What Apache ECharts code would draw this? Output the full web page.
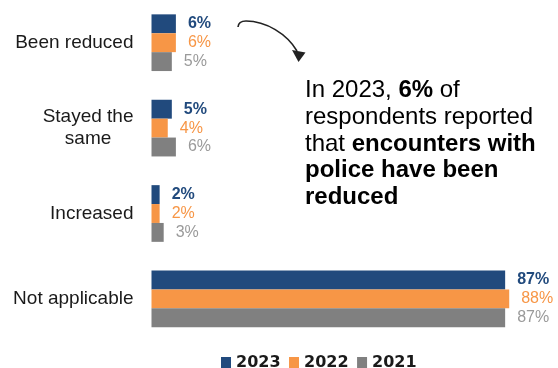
<!DOCTYPE html>
<html>
<head>
<meta charset="utf-8">
<script src="https://cdn.jsdelivr.net/npm/echarts@6/dist/echarts.min.js"></script>
<style>
  html, body { margin: 0; padding: 0; background: #ffffff; }
  #chart { width: 558px; height: 368px; }
</style>
</head>
<body>
<div id="chart"></div>
<script>
// Survey answers: how encounters with police have changed
const categories = ['Been reduced', 'Stayed the\nsame', 'Increased', 'Not applicable'];
const years = ['2023', '2022', '2021'];
const values2023 = [6, 5, 2, 87];
const values2022 = [6, 4, 2, 88];
const values2021 = [5, 6, 3, 87];

const FONT = "'Liberation Sans', Arial, sans-serif";
const LEGEND_FONT = "'DejaVu Sans', Verdana, sans-serif";
const BLUE = '#214A7D';
const ORANGE = '#F79646';
const GRAY = '#808080';

const chart = echarts.init(document.getElementById('chart'), null, { renderer: 'canvas' });

function barSeries(name, data, barColor, labelColor, bold) {
  return {
    name: name,
    type: 'bar',
    data: data,
    barWidth: 18.9,
    barGap: '0%',
    itemStyle: { color: barColor },
    label: {
      show: true,
      position: 'right',
      distance: 12,
      formatter: '{c}%',
      fontFamily: FONT,
      fontSize: 16,
      fontWeight: bold ? 'bold' : 'normal',
      color: labelColor
    },
    emphasis: { disabled: true },
    animation: false
  };
}

const option = {
  backgroundColor: '#ffffff',
  animation: false,
  grid: { left: 151.5, top: -3.9, width: 408.4, height: 345.5, containLabel: false },
  legend: {
    data: years,
    left: 221,
    top: 354.5,
    padding: 0,
    itemWidth: 10,
    itemHeight: 11,
    itemGap: 8.5,
    icon: 'rect',
    selectedMode: false,
    textStyle: {
      fontFamily: LEGEND_FONT,
      fontSize: 16,
      fontWeight: 'bold',
      color: '#1a1a1a',
      padding: [0, 0, 0, 0]
    }
  },
  xAxis: {
    type: 'value',
    min: 0,
    max: 100,
    show: false
  },
  yAxis: {
    type: 'category',
    data: categories,
    inverse: true,
    axisLine: { show: false },
    axisTick: { show: false },
    splitLine: { show: false },
    axisLabel: {
      margin: 18,
      fontFamily: FONT,
      fontSize: 19,
      color: '#1a1a1a',
      formatter: function (v) {
        return v.split('\n').map(function (s) { return '{c|' + s + '}'; }).join('\n');
      },
      rich: {
        c: { align: 'center', fontFamily: FONT, fontSize: 19, lineHeight: 22, color: '#1a1a1a' }
      }
    }
  },
  series: [
    barSeries('2023', values2023, BLUE, BLUE, true),
    barSeries('2022', values2022, ORANGE, ORANGE, false),
    barSeries('2021', values2021, GRAY, '#9a9a9a', false)
  ],
  graphic: [
    {
      type: 'bezierCurve',
      shape: { x1: 238, y1: 27, x2: 246, y2: 21, cpx1: 238.5, cpy1: 21 },
      style: { stroke: '#222222', lineWidth: 1.6, fill: null },
      silent: true
    },
    {
      type: 'bezierCurve',
      shape: { x1: 246, y1: 21, x2: 297, y2: 51, cpx1: 266, cpy1: 21, cpx2: 287, cpy2: 34 },
      style: { stroke: '#222222', lineWidth: 1.6, fill: null },
      silent: true
    },
    {
      type: 'polygon',
      shape: { points: [[292, 50], [305.5, 52.5], [298.5, 62]] },
      style: { fill: '#222222' },
      silent: true
    },
    {
      type: 'text',
      left: 305,
      top: 78.5,
      style: {
        text: '{n|In 2023, }{h|6%}{n| of}\n{n|respondents reported}\n{n|that }{b|encounters with}\n{b|police have been}\n{b|reduced}',
        fontFamily: FONT,
        fontSize: 24,
        rich: {
          n: { fontFamily: FONT, fontSize: 24, lineHeight: 26.7, color: '#1a1a1a' },
          b: { fontFamily: FONT, fontSize: 24, lineHeight: 26.7, fontWeight: 'bold', color: '#1a1a1a' },
          h: { fontFamily: FONT, fontSize: 24, lineHeight: 26.7, fontWeight: 'bold', color: BLUE }
        }
      },
      silent: true
    }
  ]
};

chart.setOption(option);
</script>
</body>
</html>
